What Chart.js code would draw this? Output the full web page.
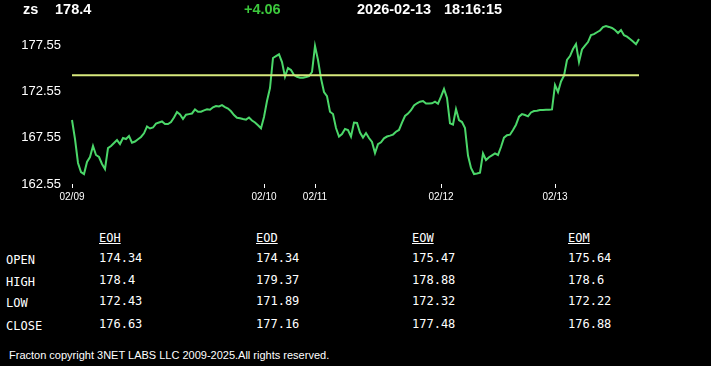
<!DOCTYPE html>
<html><head><meta charset="utf-8">
<script src="https://cdn.jsdelivr.net/npm/chart.js@4.4.1/dist/chart.umd.min.js"></script>
<style>
html,body{margin:0;padding:0;background:#000;width:711px;height:366px;overflow:hidden;}
#wrap{position:relative;width:711px;height:366px;background:#000;}
#c{position:absolute;left:0;top:0;}
.h{position:absolute;top:0;font:bold 14.5px "Liberation Sans",Arial,sans-serif;color:#fff;line-height:18px;white-space:pre;}
.t{position:absolute;font:12px "DejaVu Sans Mono",monospace;color:#fff;line-height:14px;white-space:pre;}
.u{text-decoration:underline;}
.f{position:absolute;left:9px;top:348px;font:11px "Liberation Sans",Arial,sans-serif;color:#fff;line-height:14px;white-space:pre;}
</style></head>
<body><div id="wrap">
<canvas id="c" width="711" height="210"></canvas>
<div class="h" style="left:23px">zs</div>
<div class="h" style="left:55px">178.4</div>
<div class="h" style="left:244px;color:#3cc83c">+4.06</div>
<div class="h" style="left:357px">2026-02-13</div>
<div class="h" style="left:444px">18:16:15</div>
<div id="tbl"></div>
<div class="f">Fracton copyright 3NET LABS LLC 2009-2025.All rights reserved.</div>
</div>
<script>
// ---- data ----
const dayLabels = ['02/09','02/10','02/11','02/12','02/13'];
const dayStart = [0, 64, 81, 123, 161];
const yTicks = [162.55, 167.55, 172.55, 177.55];
const refLevel = 174.34;
const prices = [
169.49,167.43,164.83,163.85,163.63,164.94,165.48,166.67,165.70,165.48,
164.72,164.18,166.45,166.67,167.00,167.32,166.89,167.54,167.43,167.76,
167.03,167.16,167.40,167.65,168.05,168.79,168.57,168.68,169.11,169.22,
169.33,169.06,169.06,169.27,169.76,170.36,170.09,169.60,170.06,170.13,
170.20,170.63,170.39,170.39,170.54,170.65,170.60,170.87,171.01,170.97,
171.10,170.90,170.73,170.44,170.03,169.73,169.68,169.60,169.53,169.76,
169.44,169.23,168.92,168.59,169.82,171.55,172.96,176.22,176.43,176.62,
175.78,174.19,175.13,174.91,174.37,174.18,174.08,174.08,174.16,174.26,
174.70,177.52,176.00,174.01,172.53,172.09,170.39,170.14,168.62,167.70,
167.97,168.52,168.41,167.70,169.22,169.17,168.14,167.59,168.08,167.54,
167.11,165.91,166.88,167.08,167.51,167.70,167.80,167.91,168.22,168.41,
169.21,169.93,170.19,170.55,171.07,171.31,171.48,171.55,171.27,171.27,
171.30,171.48,171.26,172.02,172.85,171.88,169.13,169.00,170.68,169.49,
169.27,168.62,165.63,164.29,163.63,163.69,163.78,165.86,165.15,165.45,
165.66,165.88,165.70,166.56,167.58,167.84,167.90,168.41,168.98,169.85,
170.13,170.03,169.89,170.31,170.47,170.50,170.58,170.58,170.61,170.60,
170.64,173.29,172.53,173.67,174.30,176.00,176.43,177.19,177.73,175.78,
177.14,177.57,177.95,178.71,178.80,179.01,179.20,179.58,179.68,179.59,
179.48,179.25,178.93,179.25,178.69,178.53,178.27,178.01,177.71,178.28
];
const colNames = ['EOH','EOD','EOW','EOM'];
const rowNames = ['OPEN','HIGH','LOW','CLOSE'];
const openVals  = ['174.34','174.34','175.47','175.64'];
const highVals  = ['178.4','179.37','178.88','178.6'];
const lowVals   = ['172.43','171.89','172.32','172.22'];
const closeVals = ['176.63','177.16','177.48','176.88'];

// ---- table ----
const tbl = document.getElementById('tbl');
const colX = [99, 256, 412, 568];
const rowY = [251, 273, 294, 317];
colNames.forEach((n,i)=>{
  const d=document.createElement('div'); d.className='t u'; d.textContent=n;
  d.style.left=colX[i]+'px'; d.style.top='231px'; tbl.appendChild(d);
});
const rows=[openVals,highVals,lowVals,closeVals];
rowNames.forEach((n,r)=>{
  const d=document.createElement('div'); d.className='t'; d.textContent=n;
  d.style.left='6px'; d.style.top=(rowY[r]+2)+'px'; tbl.appendChild(d);
  rows[r].forEach((v,i)=>{
    const e=document.createElement('div'); e.className='t'; e.textContent=v;
    e.style.left=colX[i]+'px'; e.style.top=rowY[r]+'px'; tbl.appendChild(e);
  });
});

// ---- chart ----
const labels = prices.map(()=> '');
dayStart.forEach((idx,k)=>{ labels[idx]=dayLabels[k]; });
const refLine = prices.map(()=> refLevel);

new Chart(document.getElementById('c'), {
  type:'line',
  data:{labels, datasets:[
    {data:refLine, borderColor:'rgb(215,232,125)', borderWidth:2, pointRadius:0, tension:0},
    {data:prices, borderColor:'rgb(75,215,105)', borderWidth:2, pointRadius:0, tension:0}
  ]},
  options:{
    responsive:false, animation:false,
    layout:{padding:{top:20,left:0,right:72,bottom:0}},
    plugins:{legend:{display:false}, tooltip:{enabled:false}},
    scales:{
      x:{
        grid:{display:true, drawOnChartArea:false, drawTicks:true, tickLength:4, color:'#ffffff', lineWidth:1},
        border:{display:false},
        ticks:{autoSkip:false, maxRotation:0, minRotation:0, padding:3, color:'#ffffff',
               font:{size:10, family:'"Liberation Sans", Arial, sans-serif'}},
        afterBuildTicks:(s)=>{ s.ticks = s.ticks.filter(t=> labels[t.value] !== ''); },
        afterFit:(s)=>{ s.height = 26; }
      },
      y:{
        min:162.55, max:180.34,
        grid:{display:false, drawTicks:true, tickLength:8},
        border:{display:false},
        ticks:{padding:3, color:'#ffffff', font:{size:13, family:'"Liberation Sans", Arial, sans-serif'},
               callback:(v)=> Number(v).toFixed(2)},
        afterBuildTicks:(s)=>{ s.ticks = yTicks.map(v=>({value:v})); },
        afterFit:(s)=>{ s.width = 72; }
      }
    }
  }
});
</script>
</body></html>
